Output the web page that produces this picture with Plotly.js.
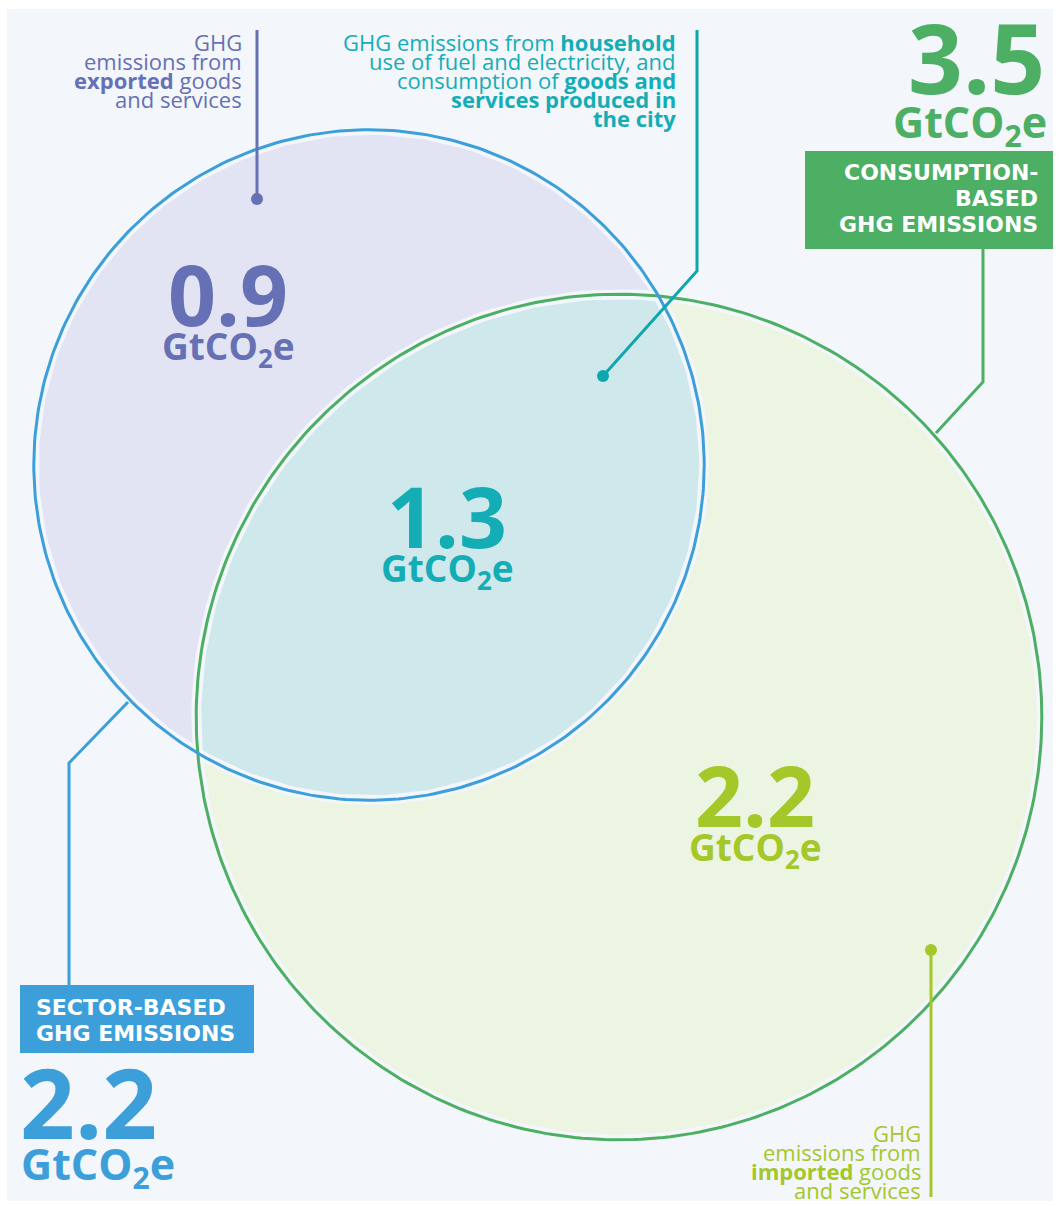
<!DOCTYPE html>
<html>
<head>
<meta charset="utf-8">
<script src="https://cdn.plot.ly/plotly-3.0.1.min.js"></script>
<style>body{margin:0;background:#fff}#plot{width:1059px;height:1206px}</style>
</head>
<body>
<div id="plot"></div>
<script>
// GHG emissions of cities, GtCO2e
var sectorTotal = 2.2;
var consumptionTotal = 3.5;
var regionNames = ['exported', 'shared', 'imported'];
var regionValues = [0.9, 1.3, 2.2];
var unitLabel = 'GtCO<sub>2</sub>e';

// label texts, one entry per line
var exportedLines = ['GHG', 'emissions from', '<b>exported</b> goods', 'and services'];
var sharedLines = ['GHG emissions from <b>household</b>', 'use of fuel and electricity, and',
  'consumption of <b>goods and</b>', '<b>services produced in</b>', '<b>the city</b>'];
var importedLines = ['GHG', 'emissions from', '<b>imported</b> goods', 'and services'];
var sectorBoxLines = ['SECTOR-BASED', 'GHG EMISSIONS'];
var consumptionBoxLines = ['CONSUMPTION-', 'BASED', 'GHG EMISSIONS'];

// colours
var bg = '#f3f6fa';
var blue = '#3d9fda', green = '#4caf63', purple = '#6670b5', teal = '#14adb6', lime = '#a4c72a';

// circle area proportional to total, k = px per sqrt(Gt)
var k = 226;
var rB = k * Math.sqrt(sectorTotal), rG = k * Math.sqrt(consumptionTotal);
var bC = {x: 369, y: 465}, gC = {x: 619, y: 717};

function arc(cx, cy, r, t0, t1, n) {
  var xs = [], ys = [];
  for (var i = 0; i <= n; i++) {
    var t = t0 + (t1 - t0) * i / n;
    xs.push(cx + r * Math.cos(t));
    ys.push(cy + r * Math.sin(t));
  }
  return {x: xs, y: ys};
}

// lens = intersection of the two circles
var dx = gC.x - bC.x, dy = gC.y - bC.y, d = Math.hypot(dx, dy);
var th = Math.atan2(dy, dx);
var a = (rB * rB - rG * rG + d * d) / (2 * d);
var al = Math.acos(a / rB), be = Math.acos((d - a) / rG);
var lensB = arc(bC.x, bC.y, rB, th - al, th + al, 120);
var lensG = arc(gC.x, gC.y, rG, th + Math.PI - be, th + Math.PI + be, 120);
var lens = {x: lensB.x.concat(lensG.x), y: lensB.y.concat(lensG.y)};

var blueC = arc(bC.x, bC.y, rB, 0, 2 * Math.PI, 360);
var greenC = arc(gC.x, gC.y, rG, 0, 2 * Math.PI, 360);

function fillTrace(p, col) {
  return {x: p.x, y: p.y, type: 'scatter', mode: 'lines', fill: 'toself',
    fillcolor: col, line: {width: 0, color: col}, hoverinfo: 'skip', showlegend: false};
}
function lineTrace(p, col, w) {
  return {x: p.x, y: p.y, type: 'scatter', mode: 'lines',
    line: {width: w, color: col}, hoverinfo: 'skip', showlegend: false};
}

var data = [
  fillTrace(greenC, '#ecf4e2'),
  fillTrace(blueC, '#e3e4f3'),
  fillTrace(lens, '#cfe8eb'),
  lineTrace(greenC, bg, 10),
  lineTrace(blueC, bg, 10),
  lineTrace(greenC, green, 3),
  lineTrace(blueC, blue, 3)
];

var font = 'Open Sans, Arial, sans-serif';
var boxFont = 'DejaVu Sans, Arial, sans-serif';
var ann = [];
function txt(x, y, s, size, col, anchor, bold, fam) {
  ann.push({x: x, y: y, xref: 'x', yref: 'y', text: s, showarrow: false,
    xanchor: anchor, yanchor: 'middle', align: anchor,
    font: {family: fam || font, size: size, color: col, weight: bold ? 'bold' : 'normal'}});
}

// small labels
exportedLines.forEach(function (s, i) { txt(244, 42 + i * 19, s, 22, purple, 'right'); });
sharedLines.forEach(function (s, i) { txt(678, 42 + i * 19, s, 22, teal, 'right'); });
importedLines.forEach(function (s, i) { txt(923, 1133 + i * 19, s, 22, lime, 'right'); });
sectorBoxLines.forEach(function (s, i) { txt(34, 1007 + i * 26, s, 22, '#fff', 'left', true, boxFont); });
consumptionBoxLines.forEach(function (s, i) { txt(1040, 172 + i * 26, s, 22, '#fff', 'right', true, boxFont); });

// region values
var regionPos = [[228, 293, purple], [447, 515, teal], [755, 794, lime]];
regionValues.forEach(function (v, i) {
  var p = regionPos[i];
  txt(p[0], p[1], v.toFixed(1), 84, p[2], 'center', true);
  txt(p[0], p[1] + 55, unitLabel, 37, p[2], 'center', true);
});

// totals
txt(1047, 56, consumptionTotal.toFixed(1), 96, green, 'right', true);
txt(1049, 124, unitLabel, 43, green, 'right', true);
txt(18, 1101, sectorTotal.toFixed(1), 96, blue, 'left', true);
txt(19, 1166, unitLabel, 43, blue, 'left', true);

function seg(pts, col) {
  var p = 'M' + pts.map(function (q) { return q[0] + ',' + q[1]; }).join('L');
  return {type: 'path', path: p, xref: 'x', yref: 'y', line: {color: col, width: 3}, layer: 'above'};
}
function dot(x, y, col) {
  return {type: 'circle', xref: 'x', yref: 'y', x0: x - 6, x1: x + 6, y0: y - 6, y1: y + 6,
    fillcolor: col, line: {width: 0}, layer: 'above'};
}

var shapes = [
  {type: 'rect', xref: 'x', yref: 'y', x0: 7, x1: 1053, y0: 9, y1: 1201, fillcolor: bg, line: {width: 0}, layer: 'below'},
  {type: 'rect', xref: 'x', yref: 'y', x0: 805, x1: 1053, y0: 151, y1: 249, fillcolor: green, line: {width: 0}, layer: 'above'},
  {type: 'rect', xref: 'x', yref: 'y', x0: 20, x1: 254, y0: 985, y1: 1053, fillcolor: blue, line: {width: 0}, layer: 'above'},
  seg([[257, 30], [257, 199]], purple),
  dot(257, 199, purple),
  seg([[697, 30], [697, 271], [603, 376]], '#0fa6ae'),
  dot(603, 376, '#0fa6ae'),
  seg([[931, 950], [931, 1197]], lime),
  dot(931, 950, lime),
  seg([[983, 249], [983, 382], [936, 433]], green),
  seg([[69, 985], [69, 763], [128, 702]], blue)
];

var layout = {
  width: 1059, height: 1206,
  margin: {l: 0, r: 0, t: 0, b: 0},
  paper_bgcolor: '#ffffff', plot_bgcolor: '#ffffff',
  xaxis: {range: [0, 1059], visible: false, fixedrange: true},
  yaxis: {range: [1206, 0], visible: false, fixedrange: true},
  shapes: shapes,
  annotations: ann,
  showlegend: false
};

Plotly.newPlot('plot', data, layout, {staticPlot: true});
</script>
</body>
</html>
